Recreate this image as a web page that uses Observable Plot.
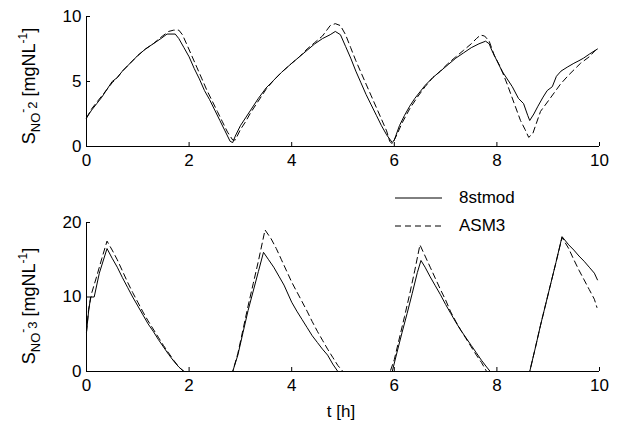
<!DOCTYPE html>
<html><head><meta charset="utf-8">
<script src="https://cdn.jsdelivr.net/npm/d3@7"></script>
<script src="https://cdn.jsdelivr.net/npm/@observablehq/plot@0.6"></script>
<style>
body{margin:0;background:#fff;}
#wrap{position:relative;width:617px;height:423px;font-family:"Liberation Sans",Arial,sans-serif;color:#000;overflow:hidden;}
.panel{position:absolute;left:0;}
.ylab{position:absolute;white-space:nowrap;font-size:18px;transform:translate(-50%,-50%) rotate(-90deg);line-height:1;}
.ylab .sub{font-size:13px;position:relative;top:5px;}
.ylab .sup{font-size:12px;position:relative;top:-8px;}
.ylab .sub2{font-size:13px;position:relative;top:2px;}
.xlab{position:absolute;font-size:17px;transform:translate(-50%,-50%);white-space:nowrap;}
.leg{position:absolute;font-size:17px;display:flex;align-items:center;white-space:nowrap;}
.leg svg{margin-right:17px;}
</style></head><body><div id="wrap"></div>
<script>
// ---- data ----
const xTicks = [0, 2, 4, 6, 8, 10];
const no2Ticks = [0, 5, 10];
const no3Ticks = [0, 10, 20];
const seriesNames = ["8stmod", "ASM3"];

// S_NO2, 8stmod (solid)
const no2T_8st = [0,0.1,0.2,0.3,0.4,0.5,0.6,0.7,0.85,1.0,1.15,1.3,1.45,1.57,1.73,1.8,1.9,2.0,2.1,2.2,2.3,2.4,2.5,2.6,2.7,2.8,2.85,2.9,3.0,3.1,3.2,3.35,3.5,3.65,3.8,4.0,4.15,4.3,4.45,4.6,4.75,4.85,4.95,5.05,5.15,5.25,5.35,5.45,5.55,5.65,5.75,5.85,5.96,6.0,6.1,6.2,6.3,6.4,6.5,6.6,6.75,6.9,7.05,7.2,7.35,7.5,7.65,7.78,7.85,7.9,8.0,8.1,8.2,8.3,8.42,8.52,8.6,8.64,8.72,8.8,8.9,8.98,9.08,9.16,9.25,9.37,9.5,9.6,9.69,9.8,9.96];
const no2V_8st = [2.2,2.8,3.3,3.8,4.4,5.0,5.3,5.8,6.4,7.0,7.5,7.9,8.3,8.65,8.65,8.3,7.6,6.9,6.0,5.2,4.3,3.6,2.8,2.0,1.2,0.4,0.3,0.8,1.6,2.2,2.8,3.7,4.5,5.1,5.7,6.4,6.9,7.4,7.9,8.3,8.6,8.85,8.6,7.7,6.8,5.8,4.9,4.0,3.2,2.4,1.6,0.9,0.3,0.5,1.6,2.4,3.1,3.7,4.2,4.7,5.3,5.8,6.3,6.8,7.2,7.6,7.9,8.1,7.9,7.4,6.6,5.8,5.2,4.6,3.7,3.3,2.4,2.0,2.5,3.1,3.8,4.3,4.6,5.4,5.8,6.1,6.4,6.6,6.8,7.1,7.5];

// S_NO2, ASM3 (dashed)
const no2T_asm = [0,0.1,0.2,0.3,0.4,0.5,0.6,0.7,0.85,1.0,1.15,1.3,1.45,1.6,1.7,1.8,1.87,1.95,2.05,2.15,2.25,2.35,2.45,2.55,2.65,2.75,2.85,2.9,3.0,3.1,3.2,3.35,3.5,3.65,3.8,4.0,4.15,4.3,4.45,4.6,4.75,4.85,4.95,5.05,5.15,5.25,5.35,5.45,5.55,5.65,5.75,5.85,5.91,5.96,6.05,6.15,6.3,6.45,6.6,6.75,6.9,7.05,7.2,7.35,7.5,7.6,7.68,7.76,7.85,7.95,8.07,8.2,8.32,8.46,8.55,8.62,8.7,8.85,9.0,9.24,9.4,9.63,9.8,9.92];
const no2V_asm = [2.2,2.9,3.4,3.9,4.4,4.9,5.3,5.8,6.4,7.0,7.5,7.9,8.4,8.85,8.95,8.95,8.6,7.9,7.0,6.1,5.2,4.3,3.5,2.7,1.9,1.1,0.5,0.5,1.3,1.9,2.6,3.5,4.4,5.1,5.7,6.4,6.9,7.5,8.0,8.5,9.3,9.45,9.3,8.6,7.6,6.6,5.7,4.8,3.9,3.0,2.1,1.2,0.4,0.2,0.9,1.8,2.9,3.8,4.6,5.3,5.8,6.4,6.9,7.4,7.9,8.3,8.57,8.5,8.1,7.0,6.1,4.8,3.5,2.0,1.3,0.7,1.0,2.7,3.5,4.8,5.5,6.4,6.9,7.4];

// S_NO3, 8stmod (solid)
const no3T_8st = [0,0.04,0.08,0.15,0.25,0.4,0.5,0.6,0.7,0.8,0.9,1.0,1.1,1.2,1.3,1.4,1.5,1.6,1.7,1.8,1.9,2.3,2.85,2.95,3.05,3.15,3.25,3.35,3.45,3.55,3.65,3.75,3.85,4.0,4.1,4.2,4.3,4.4,4.5,4.6,4.7,4.8,4.9,5.5,5.96,6.05,6.15,6.25,6.35,6.45,6.52,6.6,6.7,6.8,6.9,7.0,7.1,7.2,7.3,7.4,7.5,7.6,7.7,7.8,7.87,8.3,8.64,8.75,8.85,8.95,9.05,9.15,9.27,9.4,9.5,9.6,9.7,9.8,9.9,9.96];
const no3V_8st = [5.3,8.0,10.0,10.0,13.2,16.5,15.2,14.0,12.6,11.3,10.0,8.8,7.6,6.4,5.4,4.3,3.3,2.3,1.4,0.6,0.0,0.0,0.0,2.2,5.2,8.2,10.8,13.4,16.0,15.0,14.0,12.8,11.6,9.3,8.1,7.0,5.9,4.8,3.9,3.0,2.2,1.0,0.0,0.0,0.0,2.5,5.2,7.8,10.5,13.3,14.9,14.0,12.7,11.5,10.3,9.0,7.8,6.6,5.5,4.5,3.5,2.5,1.5,0.6,0.0,0.0,0.0,3.2,6.2,9.0,11.8,14.6,18.1,17.0,16.3,15.5,14.8,14.0,13.2,12.3];

// S_NO3, ASM3 (dashed)
const no3T_asm = [0,0.04,0.1,0.2,0.3,0.4,0.5,0.6,0.7,0.8,0.9,1.0,1.1,1.2,1.3,1.4,1.5,1.6,1.7,1.8,1.9,2.3,2.85,2.95,3.05,3.15,3.25,3.35,3.48,3.6,3.7,3.8,3.9,4.0,4.1,4.2,4.3,4.4,4.5,4.6,4.7,4.8,4.9,5.0,5.5,5.92,6.0,6.1,6.2,6.3,6.4,6.5,6.6,6.7,6.8,6.9,7.0,7.1,7.2,7.3,7.4,7.5,7.6,7.7,7.8,8.3,8.64,8.75,8.85,8.95,9.05,9.15,9.27,9.4,9.5,9.6,9.7,9.8,9.9,9.95];
const no3V_asm = [5.3,8.3,10.5,12.8,15.2,17.5,16.3,15.0,13.5,12.0,10.6,9.3,8.0,6.8,5.7,4.6,3.5,2.5,1.5,0.6,0.0,0.0,0.0,2.4,5.6,8.8,11.8,14.8,19.0,17.8,16.5,15.0,13.5,12.0,10.7,9.4,8.1,6.7,5.4,4.2,3.0,1.9,0.8,0.0,0.0,0.0,1.6,4.5,7.4,10.4,13.6,17.0,15.5,14.0,12.5,11.0,9.6,8.0,6.7,5.5,4.4,3.3,2.2,1.2,0.0,0.0,0.0,3.2,6.2,9.0,11.8,14.6,18.0,16.5,15.0,13.6,12.3,11.0,9.7,8.6];

// ---- drawing ----
const wrap = document.getElementById("wrap");
const FONT = '"Liberation Sans", Arial, sans-serif';

function rows(ts, vs, name) { return ts.map((t, i) => ({t, v: vs[i], s: name})); }

function panel({data8, dataA, yDomain, yTicks, top, height, marginTop, marginBottom}) {
  const chart = Plot.plot({
    width: 617, height, marginLeft: 86, marginRight: 18, marginTop, marginBottom,
    style: {fontFamily: FONT, fontSize: "17px", color: "#000", background: "transparent"},
    x: {domain: [0, 10], axis: null},
    y: {domain: yDomain, axis: null},
    marks: [
      Plot.ruleX([0], {stroke: "#000", strokeWidth: 1}),
      Plot.ruleY([yDomain[0]], {stroke: "#000", strokeWidth: 1}),
      // inward ticks: normal outward ticks shifted back over the axis line
      Plot.axisX(xTicks, {tickSize: 4, dy: -4, tickFormat: () => "", label: null, stroke: "#000"}),
      Plot.axisX(xTicks, {tickSize: 0, tickPadding: 7, fontSize: 17, fill: "#000", label: null}),
      Plot.axisY(yTicks, {tickSize: 4, dx: 4, tickFormat: () => "", label: null, stroke: "#000"}),
      Plot.axisY(yTicks, {tickSize: 0, tickPadding: 5, fontSize: 17, fill: "#000", label: null}),
      Plot.line(data8, {x: "t", y: "v", stroke: "#000", strokeWidth: 1}),
      Plot.line(dataA, {x: "t", y: "v", stroke: "#000", strokeWidth: 1, strokeDasharray: "6,4"})
    ]
  });
  chart.classList.add("panel");
  chart.style.top = top + "px";
  wrap.appendChild(chart);
}

panel({data8: rows(no2T_8st, no2V_8st, seriesNames[0]), dataA: rows(no2T_asm, no2V_asm, seriesNames[1]),
  yDomain: [0, 10], yTicks: no2Ticks, top: 0, height: 176, marginTop: 16, marginBottom: 30});
panel({data8: rows(no3T_8st, no3V_8st, seriesNames[0]), dataA: rows(no3T_asm, no3V_asm, seriesNames[1]),
  yDomain: [0, 20], yTicks: no3Ticks, top: 200, height: 223, marginTop: 22, marginBottom: 52});

function addHTML(html) { const d = document.createElement("div"); d.innerHTML = html; const el = d.firstElementChild; wrap.appendChild(el); return el; }

const yl1 = addHTML('<div class="ylab">S<span class="sub">NO</span><span class="sup">-</span><span class="sub2">2</span> [mgNL<span class="sup">-1</span>]</div>');
yl1.style.left = "29px"; yl1.style.top = "86px";
const yl2 = addHTML('<div class="ylab">S<span class="sub">NO</span><span class="sup">-</span><span class="sub2">3</span> [mgNL<span class="sup">-1</span>]</div>');
yl2.style.left = "29px"; yl2.style.top = "306px";
const xl = addHTML('<div class="xlab">t [h]</div>');
xl.style.left = "341px"; xl.style.top = "412px";

const dashes = ["", "6,4"];
seriesNames.forEach((n, i) => {
  const el = addHTML(`<div class="leg"><svg width="47" height="4"><line x1="0" x2="47" y1="2" y2="2" stroke="#000" stroke-width="1" ${dashes[i] ? `stroke-dasharray="${dashes[i]}"` : ""}/></svg><span>${n}</span></div>`);
  el.style.left = "395px"; el.style.top = (198 + 28 * i - 10) + "px"; el.style.height = "20px";
});
</script></body></html>
